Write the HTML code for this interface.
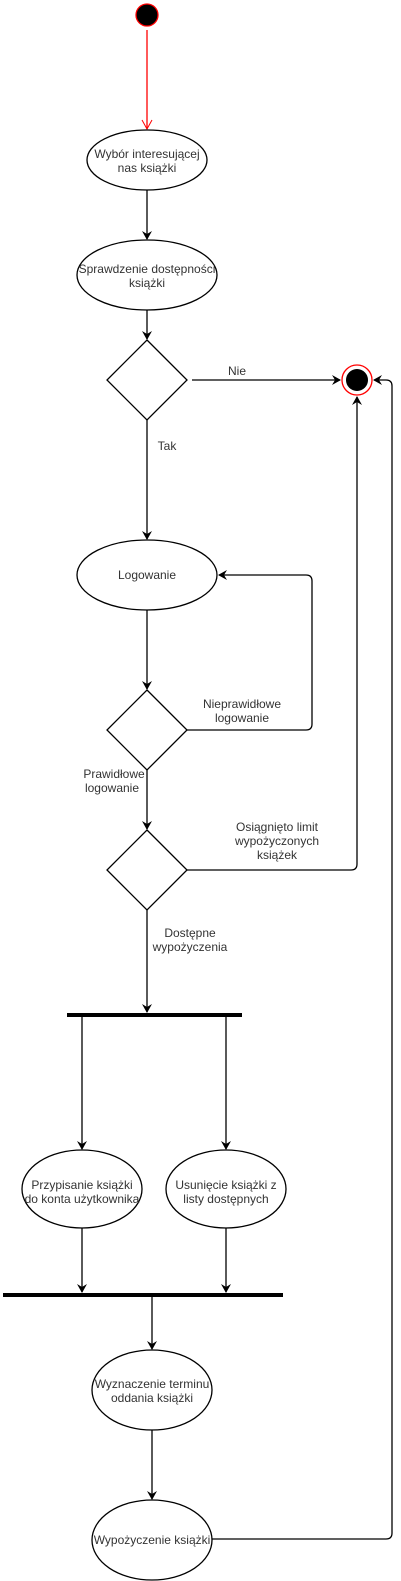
<!DOCTYPE html>
<html><head><meta charset="utf-8"><style>body{margin:0;background:#fff}svg{display:block}text{font-family:"Liberation Sans",sans-serif;font-size:12px;fill:#333;text-anchor:middle}</style></head><body>
<svg width="401" height="1581" viewBox="0 0 401 1581" xmlns="http://www.w3.org/2000/svg">
<defs><marker id="a" markerWidth="10" markerHeight="10" refX="8" refY="5" orient="auto" markerUnits="userSpaceOnUse"><path d="M0,0 L9,5 L0,10 L3,5 Z" fill="#000"/></marker>
<marker id="r" markerWidth="12" markerHeight="12" refX="10" refY="6" orient="auto" markerUnits="userSpaceOnUse"><path d="M1,1 L10,6 L1,11" fill="none" stroke="#f00"/></marker></defs>
<g stroke="#000" fill="none" stroke-width="1.3">
<circle cx="147" cy="15" r="11" fill="#000" stroke="#f00"/>
<line x1="147" y1="30" x2="147" y2="129" stroke="#f00" marker-end="url(#r)"/>
<ellipse cx="147" cy="160" rx="60" ry="30" fill="#fff"/>
<line x1="147" y1="190" x2="147" y2="239" marker-end="url(#a)"/>
<ellipse cx="147" cy="275" rx="70" ry="35" fill="#fff"/>
<line x1="147" y1="310" x2="147" y2="339" marker-end="url(#a)"/>
<polygon points="147,340 187,380 147,420 107,380" fill="#fff"/>
<line x1="192" y1="380" x2="340" y2="380" marker-end="url(#a)"/>
<circle cx="357" cy="380" r="15" stroke="#f00" fill="#fff"/>
<circle cx="357" cy="380" r="11" fill="#000" stroke="none"/>
<line x1="147" y1="420" x2="147" y2="539" marker-end="url(#a)"/>
<ellipse cx="147" cy="575" rx="70" ry="35" fill="#fff"/>
<line x1="147" y1="610" x2="147" y2="689" marker-end="url(#a)"/>
<polygon points="147,690 187,730 147,770 107,730" fill="#fff"/>
<path d="M187,730 H306 Q312,730 312,724 V581 Q312,575 306,575 H219" marker-end="url(#a)"/>
<line x1="147" y1="770" x2="147" y2="829" marker-end="url(#a)"/>
<polygon points="147,830 187,870 147,910 107,870" fill="#fff"/>
<path d="M187,870 H351 Q357,870 357,864 V397" marker-end="url(#a)"/>
<line x1="147" y1="910" x2="147" y2="1012" marker-end="url(#a)"/>
<line x1="67" y1="1015" x2="242" y2="1015" stroke-width="4"/>
<line x1="82" y1="1015" x2="82" y2="1149" marker-end="url(#a)"/>
<line x1="226" y1="1015" x2="226" y2="1149" marker-end="url(#a)"/>
<ellipse cx="82" cy="1189" rx="60" ry="39" fill="#fff"/>
<ellipse cx="226" cy="1189" rx="60" ry="39" fill="#fff"/>
<line x1="82" y1="1228" x2="82" y2="1292" marker-end="url(#a)"/>
<line x1="226" y1="1228" x2="226" y2="1292" marker-end="url(#a)"/>
<line x1="3" y1="1295" x2="283" y2="1295" stroke-width="4"/>
<line x1="152" y1="1295" x2="152" y2="1349" marker-end="url(#a)"/>
<ellipse cx="152" cy="1390" rx="60" ry="40" fill="#fff"/>
<line x1="152" y1="1430" x2="152" y2="1499" marker-end="url(#a)"/>
<ellipse cx="152" cy="1540" rx="60" ry="40" fill="#fff"/>
<path d="M212,1539 H386 Q392,1539 392,1533 V386 Q392,380 386,380 H374" marker-end="url(#a)"/>
</g>
<text x="147" y="158">Wybór interesującej</text><text x="147" y="172">nas książki</text>
<text x="147" y="273">Sprawdzenie dostępności</text><text x="147" y="287">książki</text>
<text x="237" y="375">Nie</text>
<text x="167" y="450">Tak</text>
<text x="147" y="579">Logowanie</text>
<text x="242" y="708">Nieprawidłowe</text><text x="242" y="722">logowanie</text>
<text x="114" y="778">Prawidłowe</text><text x="112" y="792">logowanie</text>
<text x="277" y="831">Osiągnięto limit</text><text x="277" y="845">wypożyczonych</text><text x="277" y="859">książek</text>
<text x="190" y="937">Dostępne</text><text x="190" y="951">wypożyczenia</text>
<text x="82" y="1189">Przypisanie książki</text><text x="82" y="1203">do konta użytkownika</text>
<text x="226" y="1189">Usunięcie książki z</text><text x="226" y="1203">listy dostępnych</text>
<text x="152" y="1388">Wyznaczenie terminu</text><text x="152" y="1402">oddania książki</text>
<text x="152" y="1544">Wypożyczenie książki</text>
</svg>
</body></html>
